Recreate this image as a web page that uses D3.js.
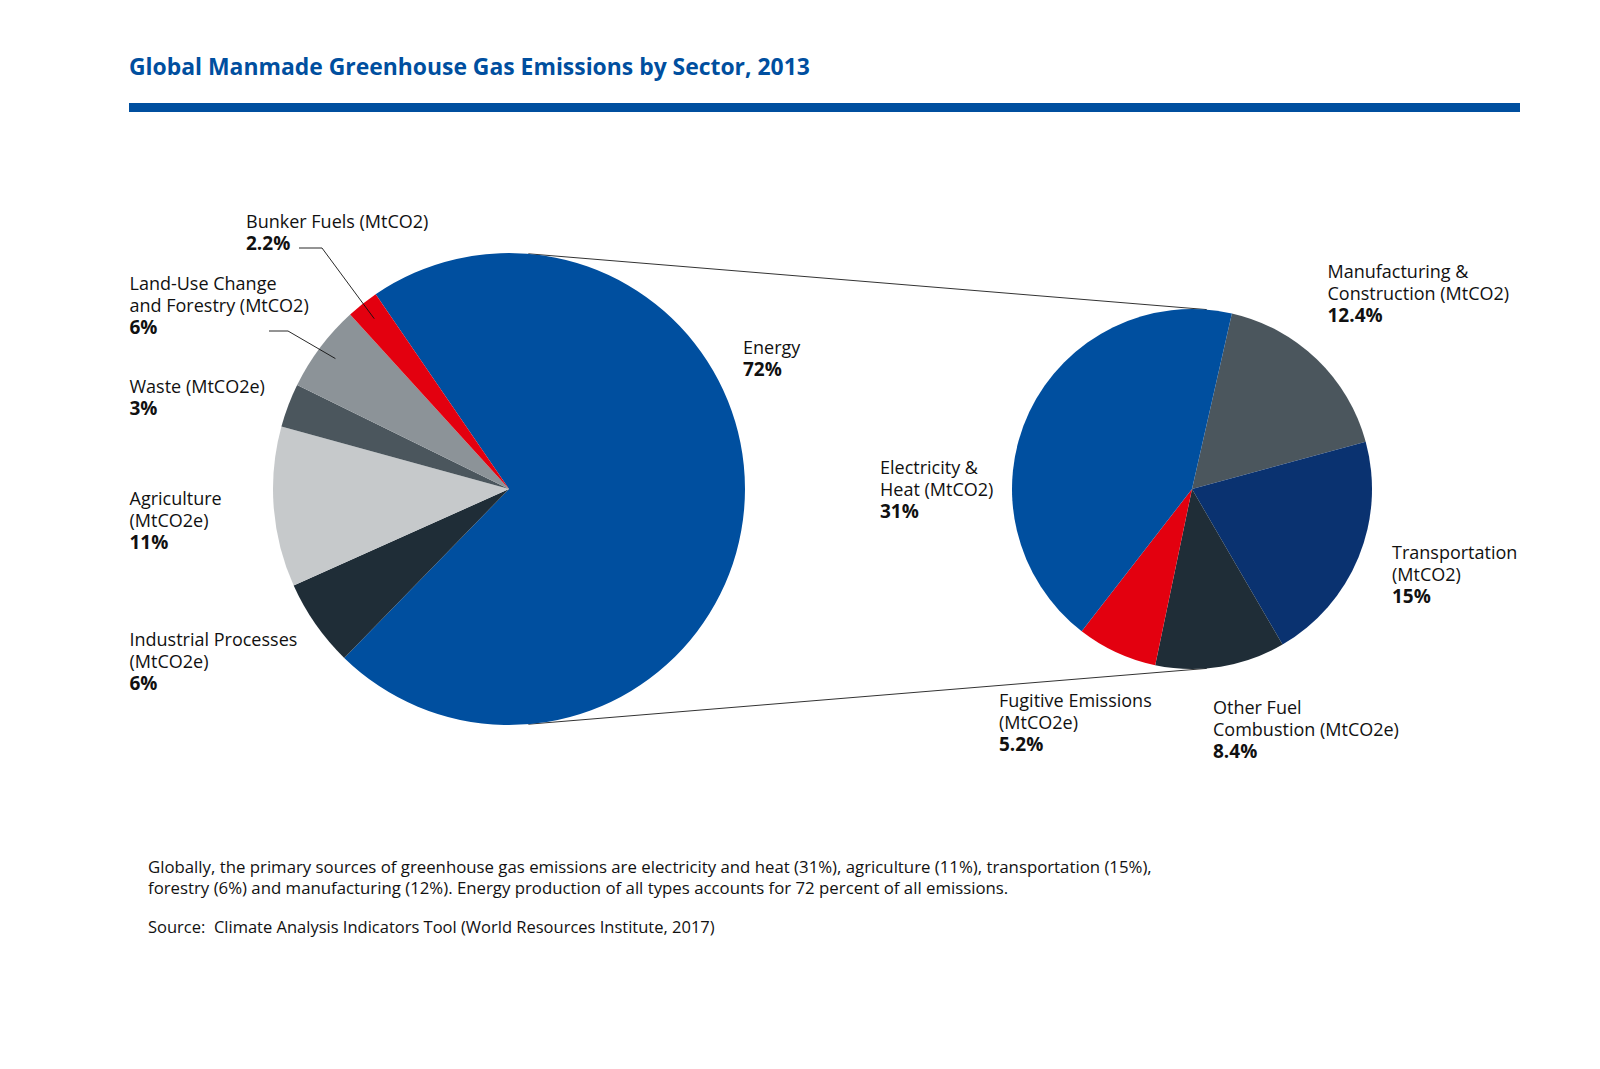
<!DOCTYPE html>
<html>
<head>
<meta charset="utf-8">
<title>Global Manmade Greenhouse Gas Emissions by Sector, 2013</title>
<script src="https://d3js.org/d3.v7.min.js"></script>
<style>
    html, body { margin: 0; padding: 0; background: #fff; }
    svg { display: block; }
    text { font-family: "Open Sans", sans-serif; fill: #111; }
    .label { font-size: 18px; }
    .pct { font-size: 19px; font-weight: 700; }
    .note { font-size: 16.8px; }
</style>
</head>
<body>
<svg id="chart" width="1600" height="1069"></svg>
<script>
var titleText = "Global Manmade Greenhouse Gas Emissions by Sector, 2013";

// main pie, clockwise from the energy slice
var sectorNames = ["Energy", "Industrial Processes", "Agriculture", "Waste", "Land-Use Change", "Bunker Fuels"];
var sectorValues = [72, 6, 11, 3, 6, 2.2];
var sectorColors = ["#004f9f", "#1f2d37", "#c6c9cb", "#4b565d", "#8c9398", "#e3000f"];
var sectorLabels = [["Energy"], ["Industrial Processes", "(MtCO2e)"], ["Agriculture", "(MtCO2e)"], ["Waste (MtCO2e)"], ["Land-Use Change", "and Forestry (MtCO2)"], ["Bunker Fuels (MtCO2)"]];
var sectorLabelPos = [[743, 353.5], [129.5, 645.5], [129.5, 504.5], [129.5, 392.5], [129.5, 289.5], [246, 227.5]];

// breakdown of energy
var energyNames = ["Manufacturing", "Transportation", "Other Fuel Combustion", "Fugitive Emissions", "Electricity"];
var energyValues = [12.4, 15, 8.4, 5.2, 31];
var energyColors = ["#4b565d", "#0a3270", "#1f2d37", "#e3000f", "#004f9f"];
var energyLabels = [["Manufacturing &", "Construction (MtCO2)"], ["Transportation", "(MtCO2)"], ["Other Fuel", "Combustion (MtCO2e)"], ["Fugitive Emissions", "(MtCO2e)"], ["Electricity &", "Heat (MtCO2)"]];
var energyLabelPos = [[1327.5, 277.5], [1392, 558.5], [1213, 713.5], [999, 706.5], [880, 473.5]];

var noteLines = [
    "Globally, the primary sources of greenhouse gas emissions are electricity and heat (31%), agriculture (11%), transportation (15%),",
    "forestry (6%) and manufacturing (12%). Energy production of all types accounts for 72 percent of all emissions."
];
var sourceText = "Source:  Climate Analysis Indicators Tool (World Resources Institute, 2017)";

var lineGap = 22;
var blue = "#004f9f";
var rad = Math.PI / 180;

var svg = d3.select("#chart");

svg.append("text")
    .attr("x", 129).attr("y", 75)
    .style("font-size", "22.9px").style("font-weight", 700).style("fill", blue)
    .text(titleText);

svg.append("rect")
    .attr("x", 129).attr("y", 103).attr("width", 1391).attr("height", 9)
    .attr("fill", blue);

var left = { x: 509, y: 489, r: 236 };
var right = { x: 1192, y: 489, r: 180 };

// connector lines are the outer tangents of the two circles
var tangent = Math.asin((left.r - right.r) / (right.x - left.x));
[tangent, Math.PI - tangent].forEach(function (a) {
    svg.append("line")
        .attr("x1", left.x + left.r * Math.sin(a)).attr("y1", left.y - left.r * Math.cos(a))
        .attr("x2", right.x + right.r * Math.sin(a)).attr("y2", right.y - right.r * Math.cos(a))
        .attr("stroke", "#333").attr("stroke-width", 1);
});

function drawPie(c, names, values, colors, start) {
    var pie = d3.pie().sort(null).value(function (d) { return d; })
        .startAngle(start).endAngle(start + 2 * Math.PI);
    var arc = d3.arc().innerRadius(0).outerRadius(c.r);
    var arcs = pie(values);
    svg.append("g")
        .attr("transform", "translate(" + c.x + "," + c.y + ")")
        .selectAll("path")
        .data(arcs)
        .enter()
        .append("path")
        .attr("d", arc)
        .attr("fill", function (d, i) { return colors[i]; })
        .append("title")
        .text(function (d, i) { return names[i] + " " + d.value + "%"; });
    return arcs;
}

var mainArcs = drawPie(left, sectorNames, sectorValues, sectorColors, -34.4 * rad);
drawPie(right, energyNames, energyValues, energyColors, 12.8 * rad);

function drawLabels(lines, values, pos) {
    lines.forEach(function (rows, i) {
        var g = svg.append("text").attr("x", pos[i][0]).attr("y", pos[i][1]);
        rows.forEach(function (row, j) {
            g.append("tspan").attr("class", "label")
                .attr("x", pos[i][0]).attr("dy", j ? lineGap : 0).text(row);
        });
        g.append("tspan").attr("class", "pct")
            .attr("x", pos[i][0]).attr("dy", lineGap).text(values[i] + "%");
    });
}
drawLabels(sectorLabels, sectorValues, sectorLabelPos);
drawLabels(energyLabels, energyValues, energyLabelPos);

// leader lines: from beside the label into the middle of the slice
var leaders = [
    { slice: 5, from: [299, 248], elbow: [322, 248] },
    { slice: 4, from: [269, 331], elbow: [288, 331] }
];
leaders.forEach(function (l) {
    var d = mainArcs[l.slice];
    var mid = (d.startAngle + d.endAngle) / 2;
    var end = [left.x + 0.92 * left.r * Math.sin(mid), left.y - 0.92 * left.r * Math.cos(mid)];
    svg.append("path")
        .attr("d", d3.line()([l.from, l.elbow, end]))
        .attr("fill", "none").attr("stroke", "#111").attr("stroke-width", 0.9);
});

noteLines.forEach(function (t, i) {
    svg.append("text").attr("class", "note")
        .attr("x", 148).attr("y", 873 + i * 21).text(t);
});
svg.append("text").attr("class", "note")
    .attr("x", 148).attr("y", 933).style("white-space", "pre").style("font-size", "16.5px").text(sourceText);
</script>
</body>
</html>
